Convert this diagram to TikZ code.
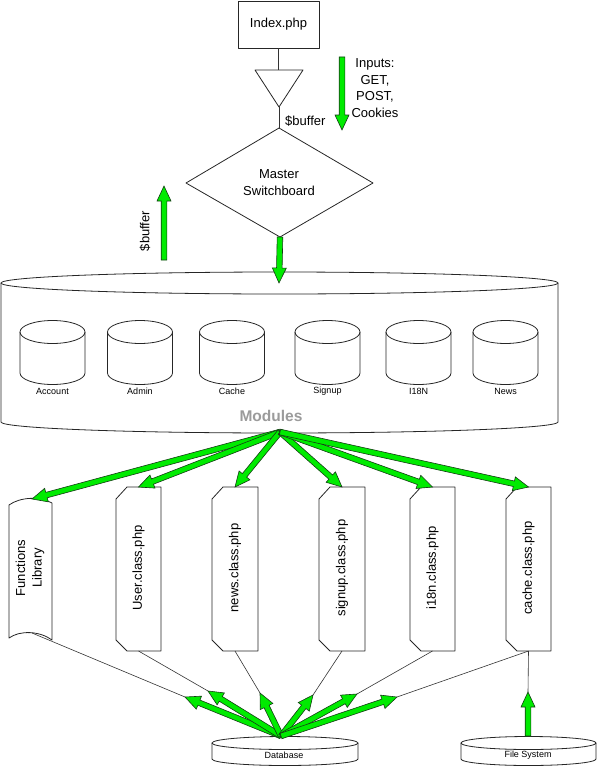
\documentclass[tikz,border=0pt]{standalone}
\usepackage{fontspec}
\setmainfont{Liberation Sans}
\usetikzlibrary{calc}
\definecolor{arrgreen}{RGB}{0,235,0}
\definecolor{arredge}{RGB}{20,60,20}
\definecolor{modgray}{RGB}{155,155,155}
\tikzset{
  shapeline/.style={draw=black!85, line width=0.8pt, line join=round},
  thinline/.style={draw=black!80, line width=0.6pt},
  fatarr/.style={fill=arrgreen, draw=arredge, line width=0.6pt, line join=miter},
  lbl/.style={font=\fontsize{13}{16.7}\selectfont, inner sep=0pt, align=center},
  small/.style={font=\fontsize{9}{10}\selectfont, inner sep=0pt},
  modlbl/.style={font=\fontsize{15.5}{17}\selectfont\bfseries, text=modgray, inner sep=0pt},
}
% fat block arrow between two named points
\newcommand\fatarrow[2]{%
  \coordinate (fas) at (#1);
  \coordinate (fae) at (#2);
  \coordinate (fah) at ($(fae)!15pt!(fas)$);
  \filldraw[fatarr] ($(fas)!2.8pt!90:(fae)$) -- ($(fah)!2.8pt!-90:(fas)$) -- ($(fah)!7pt!-90:(fas)$)
     -- (fae) -- ($(fah)!7pt!90:(fas)$) -- ($(fah)!2.8pt!90:(fas)$) -- ($(fas)!2.8pt!-90:(fae)$) -- cycle;
}
% cylinder: name, cx, top-centre y, bottom-centre y, rx, ry
\newcommand\cylshape[6]{%
  \draw[shapeline, fill=white] (#2-#5,#3) -- (#2-#5,#4) arc[start angle=180, end angle=360, x radius=#5pt, y radius=#6pt] -- (#2+#5,#3);
  \draw[shapeline] (#2,#3) ellipse[x radius=#5pt, y radius=#6pt];
  \coordinate (#1-top) at (#2,#3+#6);
}
% php box: name, left, right, text
\newcommand\phpbox[4]{%
  \draw[shapeline] (#2,-499) -- (#2+11,-487) -- (#3,-487) -- (#3,-651) -- (#2+11,-651) -- (#2,-640) -- cycle;
  \node[lbl, rotate=90] (#1) at ({(#2+#3)/2},-568) {#4};
  \coordinate (#1-top) at ({(#2+#3)/2},-487);
  \coordinate (#1-bot) at ({(#2+#3)/2},-651);
}
\begin{document}
\begin{tikzpicture}[x=1pt,y=1pt]
\useasboundingbox (0,0) rectangle (597,-768);

% ---- top part
\node[shapeline, lbl, minimum width=81pt, minimum height=47pt] (index) at (278.5,-24.5) {Index.php};
\draw[shapeline] (255,-70) -- (303,-70) -- (279,-107) -- cycle;
\coordinate (tritop) at (278.5,-70);
\coordinate (tribot) at (279,-107);
\draw[thinline] (index.south) -- (tritop);

\draw[shapeline] (279,-128) -- (373,-183) -- (280,-237) -- (186,-183) -- cycle;
\coordinate (swtop) at (279,-128);
\coordinate (swbot) at (280,-237);
\node[lbl] (switch) at (279,-182.5) {Master\\Switchboard};
\draw[thinline] (tribot) -- (swtop);
\node[lbl, anchor=west] (buf1) at (285,-121) {\$buffer};

\node[lbl] (inputs) at (375,-88) {Inputs:\\GET,\\POST,\\Cookies};
\coordinate (ins) at (342,-57);
\coordinate (ine) at (342,-130);
\fatarrow{ins}{ine}

\coordinate (ups) at (164,-260);
\coordinate (upe) at (164,-186);
\fatarrow{ups}{upe}
\node[lbl, rotate=90] (buf2) at (145,-231) {\$buffer};

% ---- modules cylinder
\cylshape{mods}{279.5}{-283}{-422}{278.5}{11}
\coordinate (modtop) at (279,-283);
\coordinate (modbot) at (280,-432);
\fatarrow{swbot}{modtop}

\foreach \cx/\nm/\lab in {52.5/acc/Account, 140/adm/Admin, 232/cac/Cache, 327.5/sig/Signup, 418.5/ien/I18N, 505.5/new/News}{
  \cylshape{\nm}{\cx}{-332}{-373}{32.5}{11.5}
  \node[small] (\nm-lbl) at (\cx,-391) {\lab};
}
\node[modlbl] (modules) at (271,-416) {Modules};

% ---- lower boxes
\draw[shapeline] (9,-505) .. controls (20,-497) and (40,-496) .. (52,-503) -- (52,-640)
   .. controls (40,-631) and (20,-630) .. (9,-638) -- cycle;
\node[lbl, rotate=90] (func) at (30,-568) {Functions\\Library};
\coordinate (func-top) at (32,-499);
\coordinate (func-bot) at (32,-633);

\phpbox{user}{116}{161}{User.class.php}
\phpbox{news}{212}{258}{news.class.php}
\phpbox{signup}{319}{365}{signup.class.php}
\phpbox{ien}{410}{455}{i18n.class.php}
\phpbox{cache}{506}{551}{cache.class.php}

\foreach \t in {func,user,news,signup,ien,cache}{
  \fatarrow{modbot}{\t-top}
}

% ---- storage
\cylshape{db}{285}{-743}{-759}{73}{6.5}
\node[small] (dblbl) at (284,-755) {Database};
\cylshape{fs}{528.5}{-743}{-759}{67.5}{6.5}
\node[small] (fslbl) at (528,-755) {File System};
\coordinate (dbtop) at (281,-736);
\coordinate (fstop) at (528,-736);

\coordinate (tf) at (185,-697);
\coordinate (tu) at (208,-691);
\coordinate (tn) at (260,-693);
\coordinate (ts) at (313,-695);
\coordinate (ti) at (357,-694);
\coordinate (tc) at (397,-697);
\coordinate (tfs) at (528,-692);

\draw[thinline] (func-bot) -- (tf);
\draw[thinline] (user-bot) -- (tu);
\draw[thinline] (news-bot) -- (tn);
\draw[thinline] (signup-bot) -- (ts);
\draw[thinline] (ien-bot) -- (ti);
\draw[thinline] (cache-bot) -- (tc);
\draw[thinline] (cache-bot) -- (tfs);

\foreach \t in {tf,tu,tn,ts,ti,tc}{
  \fatarrow{dbtop}{\t}
}
\fatarrow{fstop}{tfs}
\end{tikzpicture}
\end{document}
